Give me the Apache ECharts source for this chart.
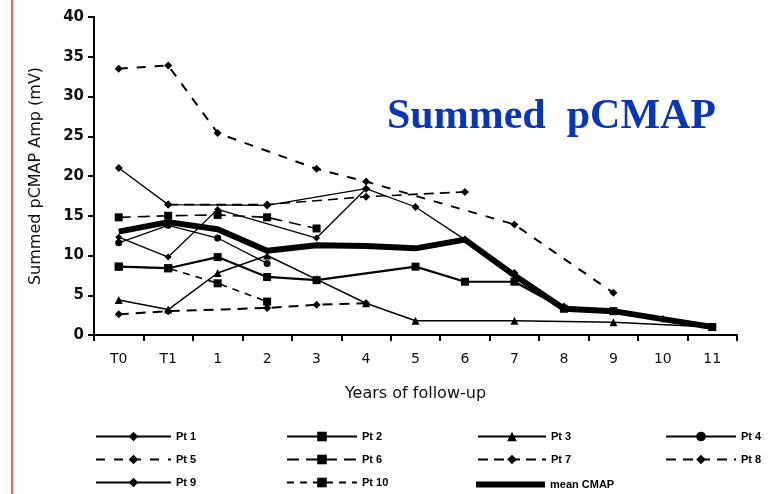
<!DOCTYPE html>
<html><head><meta charset="utf-8">
<script src="https://cdn.jsdelivr.net/npm/echarts@6/dist/echarts.min.js"></script>
<style>html,body{margin:0;padding:0;background:#fff}#c{width:775px;height:494px}</style>
</head><body><div id="c"></div>
<script>
var categories = ['T0','T1','1','2','3','4','5','6','7','8','9','10','11'];
var yTicks = [0,5,10,15,20,25,30,35,40];
var pt1 = [21.0, 16.4, null, 16.3, null, 18.4, 16.1, 12.0, 7.8, 3.6, 3.0, 2.0, 1.0];
var pt2 = [8.6, 8.4, 9.8, 7.3, 6.9, null, 8.6, 6.7, 6.7, 3.3, 3.0, null, 1.0];
var pt3 = [4.4, 3.2, 7.8, 10.0, 7.0, 4.0, 1.8, null, 1.8, null, 1.6, null, 1.0];
var pt4 = [11.6, 13.8, 12.2, 9.0, null, null, null, null, null, null, null, null, null];
var pt5 = [33.5, 33.9, 25.4, null, 20.9, 19.3, null, null, 13.9, null, 5.3, null, null];
var pt6 = [14.8, 15.0, 15.1, 14.8, 13.4, null, null, null, null, null, null, null, null];
var pt7 = [null, 16.4, null, 16.4, null, 17.4, null, 18.0, null, null, null, null, null];
var pt8 = [2.6, 3.0, null, 3.4, 3.8, 4.0, null, null, null, null, null, null, null];
var pt9 = [12.3, 9.8, 15.8, null, 12.2, 18.4, null, null, null, null, null, null, null];
var pt10 = [8.6, 8.4, 6.5, 4.2, null, null, null, null, null, null, null, null, null];
var meanCMAP = [13.0, 14.2, 13.3, 10.6, 11.3, 11.2, 10.9, 12.0, 7.5, 3.3, 3.0, 2.0, 1.0];

function mk(name, data, symbol, size, width, type) {
  return {
    name: name, type: 'line', data: data, connectNulls: true,
    symbol: symbol, symbolSize: size, showSymbol: symbol !== 'none',
    lineStyle: {color: '#000', width: width, type: type},
    itemStyle: {color: '#000', borderWidth: 0},
    emphasis: {disabled: true}, animation: false, z: 3
  };
}
var series = [
  mk('Pt 1', pt1, 'diamond', 8, 1.3, 'solid'),
  mk('Pt 2', pt2, 'rect', 8, 2.2, 'solid'),
  mk('Pt 3', pt3, 'triangle', 8, 1.5, 'solid'),
  mk('Pt 4', pt4, 'circle', 7, 1.3, 'solid'),
  mk('Pt 5', pt5, 'diamond', 8, 2, [9, 9]),
  mk('Pt 6', pt6, 'rect', 8, 1.6, [12, 7]),
  mk('Pt 7', pt7, 'diamond', 8, 1.6, [10, 6]),
  mk('Pt 8', pt8, 'diamond', 8, 2, [10, 7]),
  mk('Pt 9', pt9, 'diamond', 7, 1.3, 'solid'),
  mk('Pt 10', pt10, 'rect', 8, 1.6, [7, 6]),
  mk('mean CMAP', meanCMAP, 'none', 0, 6, 'solid')
];
var lf = {fontFamily: 'Liberation Sans, Arial', fontSize: 11, color: '#000', fontWeight: 'bold'};
function lg(data, left, w, top, h, gap) {
  return {data: data, left: left, top: top, orient: 'vertical', itemWidth: w, itemHeight: h,
    itemGap: gap, textStyle: lf, selectedMode: false, padding: 0};
}
var chart = echarts.init(document.getElementById('c'), null, {renderer: 'canvas'});
chart.setOption({
  backgroundColor: '#fff',
  animation: false,
  graphic: [
    {type: 'line', shape: {x1: 12, y1: 0, x2: 12, y2: 494}, style: {stroke: '#e8303a', lineWidth: 1.5}},
    {type: 'text', left: 387, top: 96, style: {text: 'Summed  pCMAP', fill: '#0a35b5',
      font: 'bold 42px "Liberation Serif", "Times New Roman", serif'}}
  ],
  grid: {left: 94, right: 38, top: 17, bottom: 159},
  legend: [
    lg(['Pt 1','Pt 5','Pt 9'], 95, 75, 431, 12, 12),
    lg(['Pt 2','Pt 6','Pt 10'], 286, 70, 431, 12, 12),
    lg(['Pt 3','Pt 7'], 477, 68, 431, 12, 12),
    lg([{name: 'mean CMAP', icon: 'rect'}], 476, 69, 479, 6, 10),
    lg(['Pt 4','Pt 8'], 665, 70, 431, 12, 12)
  ],
  xAxis: {
    type: 'category', data: categories, boundaryGap: true,
    name: 'Years of follow-up', nameLocation: 'middle', nameGap: 51,
    nameTextStyle: {fontFamily: 'DejaVu Sans', fontSize: 16, color: '#111'},
    axisLine: {lineStyle: {color: '#000', width: 2}},
    axisTick: {show: true, length: 6, lineStyle: {color: '#000', width: 2}, alignWithLabel: false},
    axisLabel: {fontFamily: 'DejaVu Sans', fontSize: 14, color: '#111', margin: 17},
    splitLine: {show: false}
  },
  yAxis: {
    type: 'value', min: 0, max: 40, interval: 5,
    name: 'Summed pCMAP Amp (mV)', nameLocation: 'middle', nameGap: 50,
    nameTextStyle: {fontFamily: 'DejaVu Sans', fontSize: 16, color: '#111'},
    axisLine: {show: true, lineStyle: {color: '#000', width: 2}},
    axisTick: {show: true, length: 6, lineStyle: {color: '#000', width: 2}},
    axisLabel: {fontFamily: 'DejaVu Sans', fontSize: 15, fontWeight: 'bold', color: '#111', margin: 10,
      formatter: function (v) { return yTicks.indexOf(v) >= 0 ? String(v) : ''; }},
    splitLine: {show: false}
  },
  series: series
});
</script></body></html>
